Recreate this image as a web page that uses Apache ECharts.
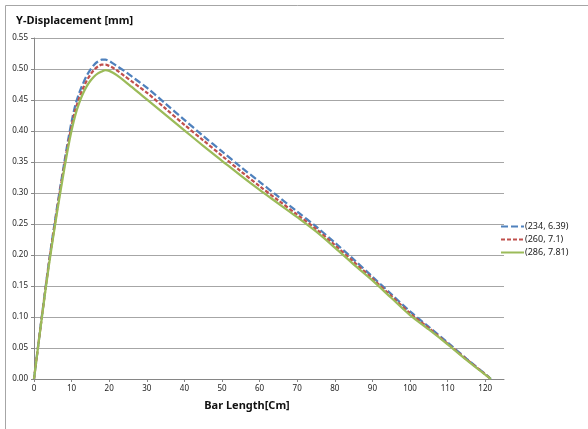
<!DOCTYPE html>
<html>
<head>
<meta charset="utf-8">
<script src="https://cdn.jsdelivr.net/npm/echarts@6/dist/echarts.min.js"></script>
<style>
    html, body { margin: 0; padding: 0; background: #fff; }
    #chart { width: 588px; height: 429px; }
</style>
</head>
<body>
<div id="chart"></div>
<script>
// 位置 (cm)
var barLength = [0, 2, 4, 6, 7, 8, 9, 10, 11, 12, 13, 14, 15, 16, 17, 18, 19, 20, 21, 22, 24, 26, 28, 30,
    35, 40, 45, 50, 55, 60, 65, 70, 75, 80, 85, 90, 95, 100, 105, 110, 115, 120, 121.5];

var seriesNames = ['(234, 6.39)', '(260, 7.1)', '(286, 7.81)'];

var disp234 = [0, 0.097, 0.19, 0.272, 0.31, 0.347, 0.383, 0.415, 0.442, 0.461, 0.476, 0.489, 0.499, 0.507, 0.512, 0.515, 0.515, 0.513, 0.509, 0.505, 0.497, 0.488, 0.479, 0.470,
    0.444, 0.418, 0.392, 0.367, 0.342, 0.318, 0.294, 0.270, 0.246, 0.220, 0.193, 0.165, 0.137, 0.109, 0.084, 0.059, 0.033, 0.008, 0];

var disp260 = [0, 0.096, 0.188, 0.268, 0.306, 0.342, 0.377, 0.408, 0.434, 0.453, 0.468, 0.481, 0.491, 0.499, 0.504, 0.507, 0.507, 0.505, 0.502, 0.498, 0.489, 0.480, 0.471, 0.462,
    0.436, 0.410, 0.385, 0.360, 0.335, 0.311, 0.288, 0.265, 0.242, 0.216, 0.189, 0.162, 0.134, 0.106, 0.082, 0.057, 0.032, 0.0075, 0];

var disp286 = [0, 0.095, 0.185, 0.264, 0.301, 0.337, 0.371, 0.401, 0.426, 0.445, 0.46, 0.472, 0.481, 0.488, 0.493, 0.496, 0.498, 0.497, 0.494, 0.490, 0.481, 0.471, 0.461, 0.451,
    0.426, 0.401, 0.376, 0.352, 0.328, 0.305, 0.283, 0.261, 0.238, 0.212, 0.185, 0.159, 0.131, 0.103, 0.080, 0.056, 0.031, 0.007, 0];

var FONT = '"Noto Sans", "DejaVu Sans", sans-serif';

function toPairs(ys) {
    return barLength.map(function (x, i) { return [x, ys[i]]; });
}

var chart = echarts.init(document.getElementById('chart'), null, { renderer: 'canvas' });

var option = {
    animation: false,
    backgroundColor: '#fff',
    textStyle: { fontFamily: FONT },
    grid: {
        left: 34,
        top: 38,
        right: 84,
        bottom: 50,
        containLabel: false
    },
    legend: {
        orient: 'vertical',
        left: 495,
        top: 216,
        itemWidth: 23,
        itemHeight: 8,
        itemGap: 2,
        itemStyle: { opacity: 0 },
        textStyle: { fontSize: 9, lineHeight: 11, color: '#222', padding: [0, 0, 0, -4] },
        data: seriesNames
    },
    xAxis: {
        type: 'value',
        min: 0,
        max: 125,
        interval: 10,
        axisLine: { show: true, lineStyle: { color: '#868686', width: 1 } },
        axisTick: { show: true, length: 3, lineStyle: { color: '#868686' } },
        axisLabel: { showMaxLabel: false, fontSize: 8, color: '#222', margin: 6 },
        splitLine: { show: false }
    },
    yAxis: {
        type: 'value',
        min: 0,
        max: 0.55,
        interval: 0.05,
        axisLine: { show: true, lineStyle: { color: '#868686', width: 1 } },
        axisTick: { show: true, length: 3, lineStyle: { color: '#868686' } },
        axisLabel: {
            fontSize: 8, color: '#222', margin: 6,
            formatter: function (v) { return v.toFixed(2); }
        },
        splitLine: { show: true, lineStyle: { color: '#a6a6a6', width: 1 } }
    },
    graphic: [
        {
            type: 'rect',
            shape: { x: 5.5, y: 5.5, width: 700, height: 700 },
            style: { fill: 'none', stroke: '#a6a6a6', lineWidth: 1 },
            z: -1
        },
        {
            type: 'text',
            left: 16,
            top: 15,
            style: { text: 'Y-Displacement [mm]', font: 'bold 11px ' + FONT, fill: '#111' }
        },
        {
            type: 'text',
            x: 247,
            y: 406,
            style: {
                text: 'Bar Length[Cm]', font: 'bold 11px ' + FONT, fill: '#111',
                align: 'center', verticalAlign: 'middle'
            }
        }
    ],
    series: [
        {
            name: seriesNames[0],
            type: 'line',
            symbol: 'none',
            smooth: 0.3,
            data: toPairs(disp234),
            itemStyle: { color: '#4f81bd' },
            lineStyle: { color: '#4f81bd', width: 2.25, type: [7, 3] },
            z: 2
        },
        {
            name: seriesNames[1],
            type: 'line',
            symbol: 'none',
            smooth: 0.3,
            data: toPairs(disp260),
            itemStyle: { color: '#c0504d' },
            lineStyle: { color: '#c0504d', width: 2.25, type: [4, 2] },
            z: 3
        },
        {
            name: seriesNames[2],
            type: 'line',
            symbol: 'none',
            smooth: 0.3,
            data: toPairs(disp286),
            itemStyle: { color: '#9bbb59' },
            lineStyle: { color: '#9bbb59', width: 2.25 },
            z: 4
        }
    ]
};

chart.setOption(option);
</script>
</body>
</html>
